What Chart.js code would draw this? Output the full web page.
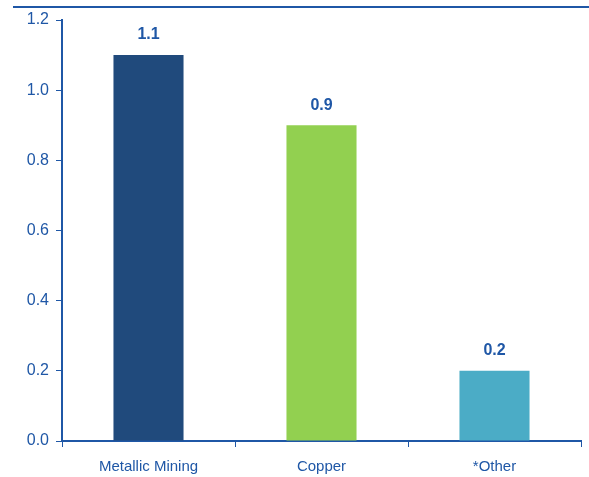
<!DOCTYPE html>
<html><head><meta charset="utf-8">
<script src="https://cdn.jsdelivr.net/npm/chart.js@4/dist/chart.umd.min.js"></script>
<style>html,body{margin:0;padding:0;background:#fff;}#wrap{width:589px;height:477px;position:relative;}</style>
</head><body><div id="wrap"><canvas id="c" width="589" height="477"></canvas></div>
<script>
const categories = ["Metallic Mining", "Copper", "*Other"];
const values = [1.1, 0.9, 0.2];
const valueLabels = ["1.1", "0.9", "0.2"];
const barColors = ["#204a7c", "#92d050", "#4bacc6"];
const yTicks = [0, 0.2, 0.4, 0.6, 0.8, 1.0, 1.2];

const axisBlue = "#1f57a6";
const FONT = "'Liberation Sans Narrow', 'Liberation Sans', Arial, sans-serif";

const topLine = {
  id: 'topLine',
  beforeDraw(chart) {
    const ctx = chart.ctx;
    ctx.save();
    ctx.fillStyle = axisBlue;
    ctx.fillRect(13, 6, 589 - 13, 2);
    ctx.restore();
  }
};
const dataLabels = {
  id: 'dataLabels',
  afterDatasetsDraw(chart) {
    const ctx = chart.ctx;
    const meta = chart.getDatasetMeta(0);
    ctx.save();
    ctx.fillStyle = axisBlue;
    ctx.font = "bold 16px " + FONT;
    ctx.textAlign = 'center';
    ctx.textBaseline = 'middle';
    meta.data.forEach((bar, i) => {
      ctx.fillText(valueLabels[i], bar.x, bar.y - 20);
    });
    ctx.restore();
  }
};

new Chart(document.getElementById('c'), {
  type: 'bar',
  data: {
    labels: categories,
    datasets: [{ data: values, backgroundColor: barColors, borderWidth: 0, barPercentage: 0.405, categoryPercentage: 1.0 }]
  },
  options: {
    responsive: false,
    animation: false,
    layout: { padding: { top: 20, right: 8, left: 0, bottom: 0 } },
    plugins: { legend: { display: false }, tooltip: { enabled: false } },
    scales: {
      x: {
        grid: { display: true, drawOnChartArea: false, drawTicks: true, tickLength: 6, color: axisBlue, offset: true },
        border: { display: true, color: axisBlue, width: 2 },
        ticks: { color: axisBlue, font: { family: FONT, size: 15 }, padding: 11 },
        afterFit(s) { s.height = 36; }
      },
      y: {
        min: 0, max: 1.2,
        afterBuildTicks(s) { s.ticks = yTicks.map(v => ({ value: v })); },
        grid: { display: true, drawOnChartArea: false, drawTicks: true, tickLength: 6, color: axisBlue },
        border: { display: true, color: axisBlue, width: 2 },
        ticks: { color: axisBlue, font: { family: FONT, size: 16 }, padding: 7, callback: v => v.toFixed(1) },
        afterFit(s) { s.width = 62; }
      }
    }
  },
  plugins: [topLine, dataLabels]
});
</script></body></html>
